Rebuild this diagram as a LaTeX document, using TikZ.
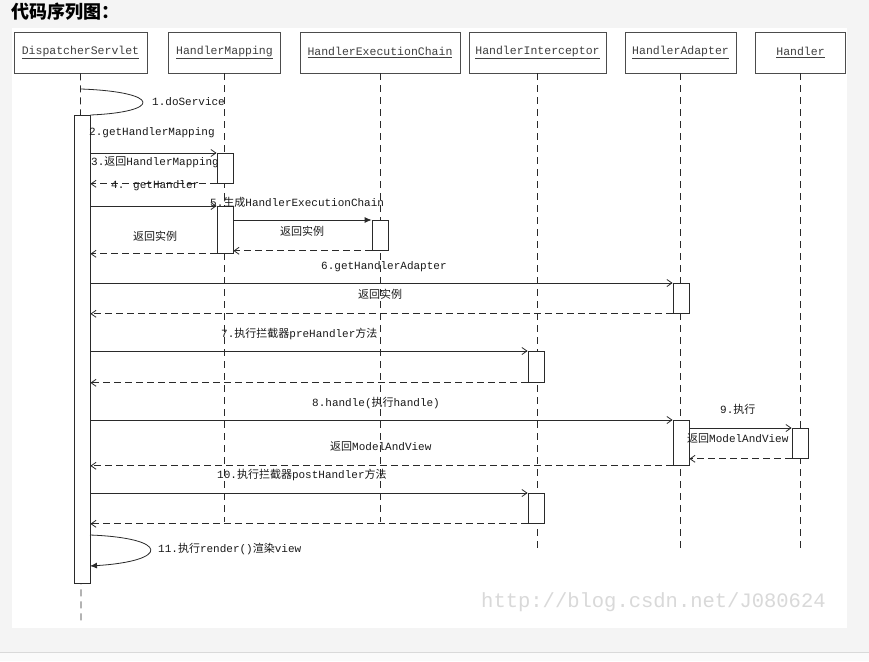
\documentclass[tikz,border=0pt]{standalone}
\usepackage{fontspec}
\setmainfont{Liberation Mono}
\newfontfamily\cjk{Noto Sans CJK SC}
\usepackage{xcolor}
\usetikzlibrary{arrows.meta}
\definecolor{pagegray}{HTML}{F4F4F4}
\definecolor{inkgray}{HTML}{2A2A2A}
\tikzset{
  obj/.style={rectangle, draw=black!70, line width=0.8pt, fill=white, align=center,
              inner sep=0pt, minimum height=41pt, font=\fontsize{11.5}{13}\selectfont, text=black!75},
  act/.style={rectangle, draw=inkgray, line width=0.8pt, fill=white, inner sep=0pt,
               minimum width=16pt, anchor=north},
  msg/.style={-{Straight Barb[length=5pt,width=7pt]}, draw=inkgray, line width=0.8pt},
  ret/.style={msg, dash pattern=on 7pt off 4pt},
  life/.style={draw=inkgray, line width=0.8pt, dash pattern=on 7pt off 5pt},
  lbl/.style={anchor=west, inner sep=0pt, font=\fontsize{11}{13}\selectfont, text=black!90}
}
\begin{document}
\begin{tikzpicture}[x=1pt, y=-1pt,
  loopline/.style={draw=inkgray, line width=0.8pt},
  ttl/.style={anchor=west, inner sep=0pt, font=\cjk\bfseries\fontsize{18}{20}\selectfont},
  wmark/.style={anchor=west, inner sep=0pt, font=\fontsize{20.5}{22}\selectfont, text=black!15}
]
\useasboundingbox (0,0) rectangle (869,661);
% ---- page ----
\fill[pagegray] (0,0) rectangle (869,661);
\fill[white] (12,28) rectangle (847,628);
\fill[black!2] (0,653) rectangle (869,661);
\draw[black!15] (0,652.5) -- (869,652.5);
\node[ttl] (title) at (11,12) {代码序列图：};
% ---- objects ----
\node[obj, minimum width=133pt] (ds) at (80.5,52.5) {\underline{DispatcherServlet}};
\node[obj, minimum width=112pt] (hm) at (224.5,52.5) {\underline{HandlerMapping}};
\node[obj, minimum width=160pt] (hec) at (380,52.5) {\underline{HandlerExecutionChain}};
\node[obj, minimum width=137pt] (hi) at (537.5,52.5) {\underline{HandlerInterceptor}};
\node[obj, minimum width=111pt] (ha) at (680.5,52.5) {\underline{HandlerAdapter}};
\node[obj, minimum width=90pt] (hd) at (800.5,52.5) {\underline{Handler}};
% ---- lifelines ----
\coordinate (dsend) at (81,625);
\coordinate (hmend) at (224.5,522);
\coordinate (hecend) at (380,522);
\coordinate (hiend) at (537.5,550);
\coordinate (haend) at (680.5,548);
\coordinate (hdend) at (800.5,548);
\draw[life] (ds.south) -- (dsend);
\draw[life] (hm.south) -- (hmend);
\draw[life] (hec.south) -- (hecend);
\draw[life] (hi.south) -- (hiend);
\draw[life] (ha.south) -- (haend);
\draw[life] (hd.south) -- (hdend);
% ---- activations ----
\node[act, minimum height=468pt] (dsact) at (82,115) {};
\node[act, minimum height=30pt] (hmact1) at (225,153) {};
\node[act, minimum height=47pt] (hmact2) at (225,206) {};
\node[act, minimum height=30pt] (hecact) at (380,220) {};
\node[act, minimum height=30pt] (haact1) at (681,283) {};
\node[act, minimum height=31pt] (hiact1) at (536,351) {};
\node[act, minimum height=45pt] (haact2) at (681,420) {};
\node[act, minimum height=30pt] (hdact) at (800,428) {};
\node[act, minimum height=30pt] (hiact2) at (536,493) {};
% ---- messages ----
\coordinate (m1) at (81,89);
\draw[loopline] (m1) .. controls (162,92) and (162,112) .. (dsact.north east);
\node[lbl] (l1) at (152,102) {1.doService};
\draw[msg] (dsact.east |- hmact1.north) -- (hmact1.north west);
\node[lbl] (l2) at (89,133) {2.getHandlerMapping};
\draw[ret] (hmact1.south west) -- (dsact.east |- hmact1.south);
\node[lbl] (l3) at (91,162) {3.{\cjk 返回}HandlerMapping};
\draw[msg] (dsact.east |- hmact2.north) -- (hmact2.north west);
\node[lbl] (l4) at (111,186) {4. getHandler};
\draw[msg, -{Latex[length=7pt,width=6pt]}] (hmact2.east |- hecact.north) -- (hecact.north west);
\node[lbl] (l5) at (210,202) {5.{\cjk 生成}HandlerExecutionChain};
\draw[ret] (hecact.south west) -- (hmact2.east |- hecact.south);
\node[lbl] (r5) at (280,231) {\cjk 返回实例};
\draw[ret] (hmact2.south west) -- (dsact.east |- hmact2.south);
\node[lbl] (r4) at (133,236) {\cjk 返回实例};
\draw[msg] (dsact.east |- haact1.north) -- (haact1.north west);
\node[lbl] (l6) at (321,267) {6.getHandlerAdapter};
\draw[ret] (haact1.south west) -- (dsact.east |- haact1.south);
\node[lbl] (r6) at (358,294) {\cjk 返回实例};
\draw[msg] (dsact.east |- hiact1.north) -- (hiact1.north west);
\node[lbl] (l7) at (221,334) {7.{\cjk 执行拦截器}preHandler{\cjk 方法}};
\draw[ret] (hiact1.south west) -- (dsact.east |- hiact1.south);
\draw[msg] (dsact.east |- haact2.north) -- (haact2.north west);
\node[lbl] (l8) at (312,403) {8.handle({\cjk 执行}handle)};
\draw[msg] (haact2.east |- hdact.north) -- (hdact.north west);
\node[lbl] (l9) at (720,409) {9.{\cjk 执行}};
\draw[ret] (hdact.south west) -- (haact2.east |- hdact.south);
\node[lbl] (r9) at (687,438) {{\cjk 返回}ModelAndView};
\draw[ret] (haact2.south west) -- (dsact.east |- haact2.south);
\node[lbl] (r8) at (330,446) {{\cjk 返回}ModelAndView};
\draw[msg] (dsact.east |- hiact2.north) -- (hiact2.north west);
\node[lbl] (l10) at (217,475) {10.{\cjk 执行拦截器}postHandler{\cjk 方法}};
\draw[ret] (hiact2.south west) -- (dsact.east |- hiact2.south);
\coordinate (m11a) at (90,535);
\coordinate (m11b) at (90,566);
\draw[loopline, -{Latex[length=7pt,width=6pt]}] (m11a) .. controls (170,538) and (170,561) .. (m11b);
\node[lbl] (l11) at (158,549) {11.{\cjk 执行}render(){\cjk 渲染}view};
% ---- watermark ----
\node[wmark] (wm) at (481,602) {http://blog.csdn.net/J080624};
\end{tikzpicture}
\end{document}
